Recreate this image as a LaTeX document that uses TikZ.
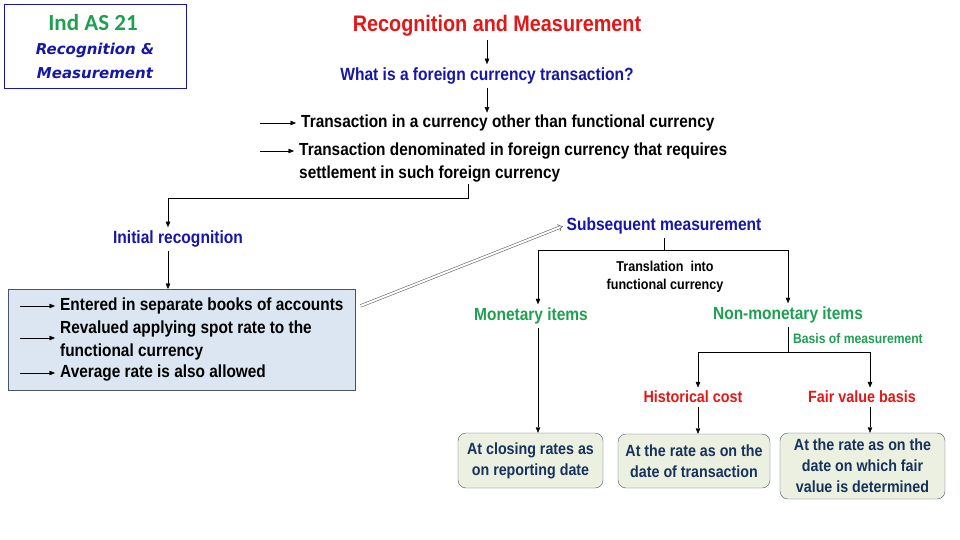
\documentclass[tikz,border=0pt]{standalone}
\usepackage{fontspec}
\setmainfont[FakeStretch=0.88]{Liberation Sans}
\newfontfamily\idfont{Carlito}
\newfontfamily\comicfont{DejaVu Sans}
\usetikzlibrary{arrows.meta,positioning}
\definecolor{headred}{RGB}{228,22,22}
\definecolor{darkblue}{RGB}{22,22,168}
\definecolor{itemgreen}{RGB}{30,160,80}
\definecolor{boxblue}{RGB}{220,230,242}
\definecolor{boxgreen}{RGB}{235,240,224}
\definecolor{navy}{RGB}{22,50,92}
\definecolor{edgegray}{RGB}{70,85,105}
\begin{document}
\begin{tikzpicture}[x=1pt, y=-1pt,
arr/.style={-{Triangle[length=5.5pt,width=4.5pt]}, thin},
bul/.style={arr, shorten >=3pt},
dbl/.style={draw=gray!80!black, double=white, double distance=2pt, line width=0.6pt, -{Implies}},
body/.style={font=\fontsize{17.5}{22.5}\selectfont\bfseries, inner sep=2pt, align=left},
small/.style={font=\fontsize{14.3}{18}\selectfont\bfseries, inner sep=1pt, align=center},
bluehead/.style={font=\fontsize{17.7}{20}\selectfont\bfseries, text=darkblue},
greenhead/.style={font=\fontsize{17.6}{20}\selectfont\bfseries, text=itemgreen},
redhead/.style={font=\fontsize{16.3}{20}\selectfont\bfseries, text=headred},
result/.style={draw=edgegray, fill=boxgreen, rounded corners=8pt, text=navy,
  font=\fontsize{16.2}{21}\selectfont\bfseries, align=center, inner sep=2pt}]
\useasboundingbox (0,0) rectangle (960,540);
% title box
\node[draw=darkblue, minimum width=182pt, minimum height=84pt, inner sep=0pt] (tbox) at (95,46) {};
\node[font=\idfont\fontsize{23}{26}\selectfont\bfseries, text=itemgreen] (tid) at (93,23) {Ind AS 21};
\node[font=\comicfont\fontsize{15}{18}\selectfont\bfseries\itshape, text=darkblue] (trec) at (95,50) {Recognition \&};
\node[font=\comicfont\fontsize{15}{18}\selectfont\bfseries\itshape, text=darkblue] (tmeas) at (95,73) {Measurement};
% top part
\node[font=\fontsize{22.5}{24}\selectfont\bfseries, text=headred] (rm) at (497,26) {Recognition and Measurement};
\node[bluehead] (what) at (487,76) {What is a foreign currency transaction?};
\node[body, anchor=west] (t1) at (299,123) {Transaction in a currency other than functional currency};
\node[body, anchor=north west] (t2) at (297,141) {Transaction denominated in foreign currency that requires\\settlement in such foreign currency};
\draw[arr] (what.north |- rm.south) -- (what.north);
\draw[arr] (what.south) -- (what.south |- t1.north);
\draw[bul] ([xshift=-39pt]t1.west) -- (t1.west);
\draw[bul] ([xshift=-37pt]t2.west |- 0,151) -- (t2.west |- 0,151);
% initial recognition
\coordinate (c1) at (468,198);
\node[bluehead] (init) at (178,239) {Initial recognition};
\draw[arr] (c1 |- t2.south) -- (c1) -| ([xshift=-10pt]init.north);
\node[draw=edgegray, fill=boxblue, minimum width=347pt, minimum height=101pt, anchor=north west] (ibox) at (8,289) {};
\node[body, anchor=west] (e1) at (58,306) {Entered in separate books of accounts};
\node[body, anchor=north west] (e2) at (58,319) {Revalued applying spot rate to the\\functional currency};
\node[body, anchor=west] (e3) at (58,373) {Average rate is also allowed};
\draw[arr] ([xshift=-10pt]init.south) -- ([xshift=-10pt]init.south |- ibox.north);
\draw[bul] ([xshift=-38pt]e1.west) -- (e1.west);
\draw[bul] ([xshift=-38pt]e2.west |- 0,338) -- (e2.west |- 0,338);
\draw[bul] ([xshift=-38pt]e3.west) -- (e3.west);
% subsequent measurement
\node[bluehead] (sub) at (664,226) {Subsequent measurement};
\draw[dbl] ([xshift=5pt,yshift=-17pt]ibox.north east) -- (sub.west);
\coordinate (fork1) at (664,250);
\node[small] (trans) at (665,277) {Translation\ \ into\\functional currency};
\node[greenhead] (mon) at (531,316) {Monetary items};
\node[greenhead] (non) at (788,315) {Non-monetary items};
\draw (sub.south) -- (fork1);
\draw[arr] (fork1) -| ([xshift=7pt]mon.north);
\draw[arr] (fork1) -| (non.north);
% results
\node[result, minimum width=145pt, minimum height=55pt] (b1) at (530.5,460.5) {At closing rates as\\on reporting date};
\node[result, minimum width=152pt, minimum height=54pt] (b2) at (694,461) {At the rate as on the\\date of transaction};
\node[result, minimum width=165pt, minimum height=66pt] (b3) at (862.5,466) {At the rate as on the\\date on which fair\\value is determined};
\draw[arr] ([xshift=7pt]mon.south) -- ([xshift=7pt]mon.south |- b1.north);
\coordinate (fork2) at (788,352);
\node[small, font=\fontsize{13.8}{18}\selectfont\bfseries, text=itemgreen, anchor=west] (basis) at (792,339) {Basis of measurement};
\node[redhead] (hist) at (693,397) {Historical cost};
\node[redhead] (fair) at (862,397) {Fair value basis};
\draw (non.south) -- (fork2);
\draw[arr] (fork2) -| ([xshift=5pt]hist.north);
\draw[arr] (fork2) -| ([xshift=8pt]fair.north);
\draw[arr] ([xshift=5pt]hist.south) -- ([xshift=5pt]hist.south |- b2.north);
\draw[arr] ([xshift=8pt]fair.south) -- ([xshift=8pt]fair.south |- b3.north);
\end{tikzpicture}
\end{document}
